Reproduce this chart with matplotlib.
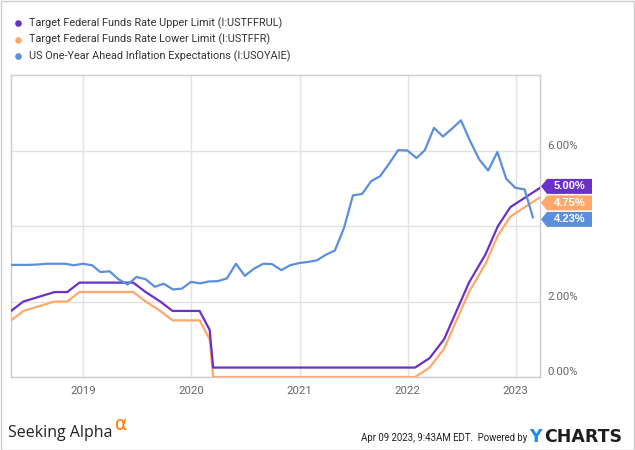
import matplotlib
matplotlib.use("Agg")
import matplotlib.pyplot as plt
import matplotlib.dates as mdates
from matplotlib.transforms import blended_transform_factory, offset_copy
from matplotlib.patches import Polygon, Rectangle
from matplotlib.lines import Line2D
import pandas as pd

# ---------------- data ----------------
fed_dates = ["2018-05-02", "2018-06-13", "2018-09-26", "2018-11-08", "2018-12-19",
             "2019-01-30", "2019-03-20", "2019-05-01", "2019-06-19", "2019-07-31",
             "2019-09-18", "2019-10-30", "2019-12-11", "2020-01-29", "2020-03-03",
             "2020-03-15", "2020-04-29", "2020-06-10", "2020-07-29", "2020-09-16",
             "2020-11-05", "2020-12-16", "2021-01-27", "2021-03-17", "2021-04-28",
             "2021-06-16", "2021-07-28", "2021-09-22", "2021-11-03", "2021-12-15",
             "2022-01-26", "2022-03-16", "2022-05-04", "2022-06-15", "2022-07-27",
             "2022-09-21", "2022-11-02", "2022-12-14", "2023-02-01", "2023-03-22"]
fed_upper = [1.75, 2.00, 2.25, 2.25, 2.50,
             2.50, 2.50, 2.50, 2.50, 2.25,
             2.00, 1.75, 1.75, 1.75, 1.25,
             0.25, 0.25, 0.25, 0.25, 0.25,
             0.25, 0.25, 0.25, 0.25, 0.25,
             0.25, 0.25, 0.25, 0.25, 0.25,
             0.25, 0.50, 1.00, 1.75, 2.50,
             3.25, 4.00, 4.50, 4.75, 5.00]
fed_lower = [1.50, 1.75, 2.00, 2.00, 2.25,
             2.25, 2.25, 2.25, 2.25, 2.00,
             1.75, 1.50, 1.50, 1.50, 1.00,
             0.00, 0.00, 0.00, 0.00, 0.00,
             0.00, 0.00, 0.00, 0.00, 0.00,
             0.00, 0.00, 0.00, 0.00, 0.00,
             0.00, 0.25, 0.75, 1.50, 2.25,
             3.00, 3.75, 4.25, 4.50, 4.75]

infl_start = "2018-04-30"
infl_end = "2023-02-28"
infl_values = [2.97, 2.97, 2.97, 2.98, 3.00, 3.00, 3.00, 2.96, 3.00,
               2.96, 2.78, 2.80, 2.59, 2.45, 2.65, 2.59, 2.39, 2.47, 2.32, 2.34, 2.52,
               2.48, 2.53, 2.54, 2.61, 3.00, 2.68, 2.87, 3.00, 2.99, 2.83, 2.96, 3.02,
               3.05, 3.09, 3.24, 3.35, 3.95, 4.81, 4.85, 5.19, 5.32, 5.66, 6.01, 6.00,
               5.80, 6.01, 6.60, 6.37, 6.58, 6.80, 6.25, 5.76, 5.47, 5.96, 5.25, 5.01,
               4.97, 4.23]

series_names = ["Target Federal Funds Rate Upper Limit (I:USTFFRUL)",
                "Target Federal Funds Rate Lower Limit (I:USTFFR)",
                "US One-Year Ahead Inflation Expectations (I:USOYAIE)"]
series_colors = ["#6a31c8", "#ffa86a", "#5b8fdc"]
year_ticks = [2019, 2020, 2021, 2022, 2023]
y_ticks = [0, 2, 4, 6]
x_range = ["2018-05-02", "2023-03-24"]
y_range = [0, 8]

# ---------------- figure ----------------
W, H = 635, 450
fig = plt.figure(figsize=(W / 100, H / 100), dpi=100)
fig.patch.set_facecolor("white")
font = ["Roboto", "DejaVu Sans"]

ax = fig.add_axes([11 / W, (H - 377) / H, 529 / W, 302 / H])
fd = pd.to_datetime(fed_dates)
idates = pd.date_range(infl_start, infl_end, freq="ME")
ax.plot(fd, fed_lower, color=series_colors[1], lw=1.6, zorder=3)
ax.plot(fd, fed_upper, color=series_colors[0], lw=1.6, zorder=4)
ax.plot(idates, infl_values, color=series_colors[2], lw=1.6, zorder=5)

ax.set_xlim(pd.Timestamp(x_range[0]), pd.Timestamp(x_range[1]))
ax.set_ylim(*y_range)
ax.set_xticks([pd.Timestamp(f"{y}-01-01") for y in year_ticks])
ax.xaxis.set_major_formatter(mdates.DateFormatter("%Y"))
ax.set_yticks(y_ticks)
ax.yaxis.set_ticklabels([])
ax.tick_params(length=0, pad=6.5)
ax.tick_params(axis="y", pad=0)
for lab in ax.get_xticklabels():
    lab.set_family(font)
    lab.set_fontsize(8.2)
    lab.set_color("#666666")
ax.grid(True, color="#e2e2e2", lw=1)
ax.set_axisbelow(True)
for s in ax.spines.values():
    s.set_color("#cccccc")
    s.set_linewidth(1)

# end-value tags (positions from last values, spread apart to avoid overlap)
fig.canvas.draw()
last_vals = [fed_upper[-1], fed_lower[-1], infl_values[-1]]
ypix = [ax.transData.transform((0, v))[1] for v in last_vals]
order = sorted(range(3), key=lambda i: -ypix[i])
pos = [ypix[i] for i in order]
gap = 16.5
for _ in range(50):
    for k in range(len(pos) - 1):
        d = pos[k] - pos[k + 1]
        if d < gap:
            sh = (gap - d) / 2
            pos[k] += sh
            pos[k + 1] -= sh
pos = [p - 1.8 for p in pos]
xr = ax.transAxes.transform((1, 0))[0]
th = 7.5
for k, i in enumerate(order):
    yc = pos[k]
    x0 = xr + 1
    poly = Polygon([(x0, yc), (x0 + 6, yc + th), (x0 + 51, yc + th),
                    (x0 + 51, yc - th), (x0 + 6, yc - th)], closed=True,
                   facecolor=series_colors[i], edgecolor="none", transform=None,
                   zorder=10)
    fig.add_artist(poly)
    fig.text((x0 + 28.5) / W, yc / H, f"{last_vals[i]:.2f}%", ha="center", va="center",
             fontsize=8, fontweight="bold", family=["Liberation Sans", "DejaVu Sans"],
             color="white", zorder=11)

# right-hand value labels (hidden where a tag covers them)
tr = offset_copy(blended_transform_factory(ax.transAxes, ax.transData), fig=fig,
                 x=7, y=2, units="dots")
for v in y_ticks:
    yv = ax.transData.transform((0, v))[1]
    lab_lo, lab_hi = yv + 2, yv + 11
    if any(lab_hi > p - th and lab_lo < p + th for p in pos):
        continue
    ax.text(1.0, v, f"{v:.2f}%", transform=tr, ha="left", va="baseline",
            fontsize=8.2, family=font, color="#666666", clip_on=False, zorder=1)

# legend
for k, (name, col) in enumerate(zip(series_names, series_colors)):
    yy = 1 - (23 + k * 16.7) / H
    fig.add_artist(Line2D([18 / W], [yy], marker="o", markersize=4.8, color=col,
                          markeredgewidth=0, transform=fig.transFigure))
    fig.text(29 / W, yy, name, ha="left", va="center", fontsize=7.8, family=font,
             color="#333333")

# footer
fig.text(8 / W, 1 - 437 / H, "Seeking Alpha", ha="left", va="baseline", fontsize=11.5,
         family=["Open Sans", "DejaVu Sans"], color="#222222")
fig.text(115 / W, 1 - 430 / H, "\u03b1", ha="left", va="baseline", fontsize=13.5,
         family=["DejaVu Sans"], color="#ff7a00")
fig.text(527 / W, 1 - 441 / H, "Apr 09 2023, 9:43AM EDT.  Powered by", ha="right",
         va="baseline", fontsize=6.9, family=font, color="#222222")
fig.text(529 / W, 1 - 442 / H, "Y", ha="left", va="baseline", fontsize=12.5,
         fontweight="bold", family=["DejaVu Sans"], color="#1a8cf0")
fig.text(544 / W, 1 - 442 / H, "CHARTS", ha="left", va="baseline", fontsize=12.5,
         fontweight="bold", family=["DejaVu Sans"], color="#1e1e1e")

# outer border
fig.add_artist(Rectangle((0.5 / W, 0.5 / H), (W - 1.5) / W, (H - 1.5) / H,
                         transform=fig.transFigure, fill=False, edgecolor="#cccccc",
                         lw=1))

fig.savefig("out.png", dpi=100, facecolor="white")
